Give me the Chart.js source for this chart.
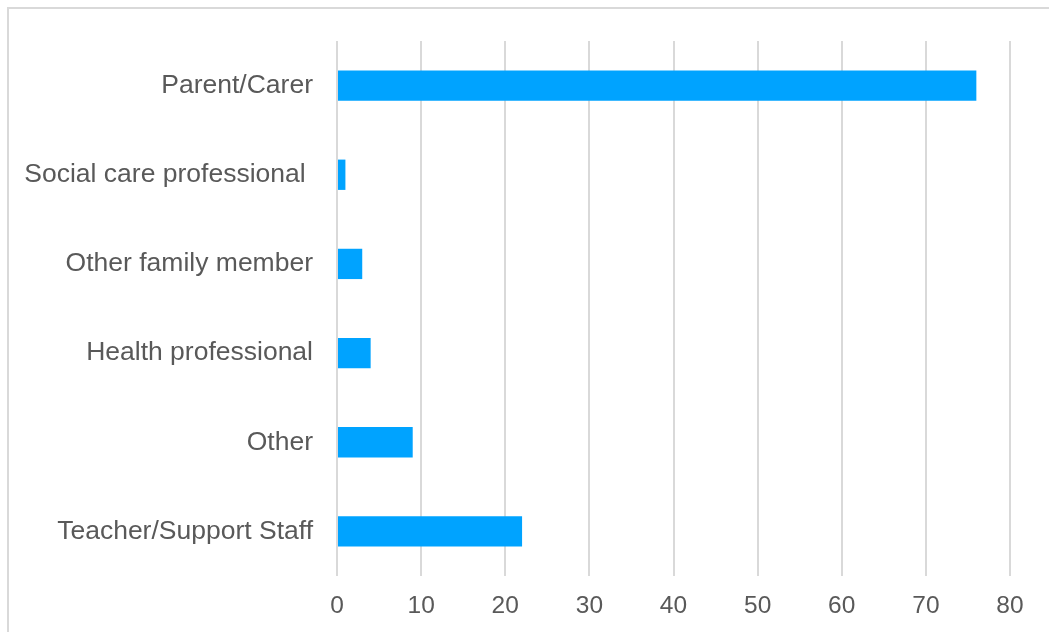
<!DOCTYPE html>
<html>
<head>
<meta charset="utf-8">
<script src="https://cdn.jsdelivr.net/npm/chart.js@4/dist/chart.umd.min.js"></script>
<style>
  html, body { margin: 0; padding: 0; background: #ffffff; overflow: hidden; }
  #frame {
    position: absolute; left: 7px; top: 7px; width: 1100px; height: 700px;
    border: 2px solid #d9d9d9; box-sizing: border-box;
  }
  #wrap { position: absolute; left: 0; top: 0; width: 1049px; height: 632px; }
</style>
</head>
<body>
<div id="frame"></div>
<div id="wrap"><canvas id="chart" width="1049" height="632"></canvas></div>
<script>
// Respondent roles, listed top to bottom
const categories = [
  "Parent/Carer",
  "Social care professional ",
  "Other family member",
  "Health professional",
  "Other",
  "Teacher/Support Staff"
];
const counts = [76, 1, 3, 4, 9, 22];
const xTicks = [0, 10, 20, 30, 40, 50, 60, 70, 80];

const textColor = "#595959";
const gridColor = "#d9d9d9";
const barColor = "#00a3ff";

new Chart(document.getElementById("chart"), {
  type: "bar",
  data: {
    labels: categories,
    datasets: [{
      data: counts,
      backgroundColor: barColor,
      borderWidth: 0,
      categoryPercentage: 1,
      barPercentage: 0.34
    }]
  },
  options: {
    indexAxis: "y",
    responsive: false,
    animation: false,
    events: [],
    layout: { padding: { top: 41, right: 39, bottom: 0, left: 0 } },
    plugins: { legend: { display: false }, tooltip: { enabled: false } },
    scales: {
      x: {
        min: xTicks[0],
        max: xTicks[xTicks.length - 1],
        afterBuildTicks: (scale) => { scale.ticks = xTicks.map(v => ({ value: v })); },
        afterFit: (scale) => { scale.height = 56; },
        border: { display: false },
        grid: { color: gridColor, lineWidth: 2, drawTicks: false },
        ticks: {
          color: textColor,
          padding: 16,
          maxRotation: 0,
          font: { family: "'Liberation Sans', Arial, sans-serif", size: 24.5 }
        }
      },
      y: {
        afterFit: (scale) => { scale.width = 337; },
        border: { display: false },
        grid: { display: false, drawTicks: false },
        ticks: {
          color: textColor,
          padding: 24,
          autoSkip: false,
          font: { family: "'Liberation Sans', Arial, sans-serif", size: 26.5 }
        }
      }
    }
  }
});
</script>
</body>
</html>
